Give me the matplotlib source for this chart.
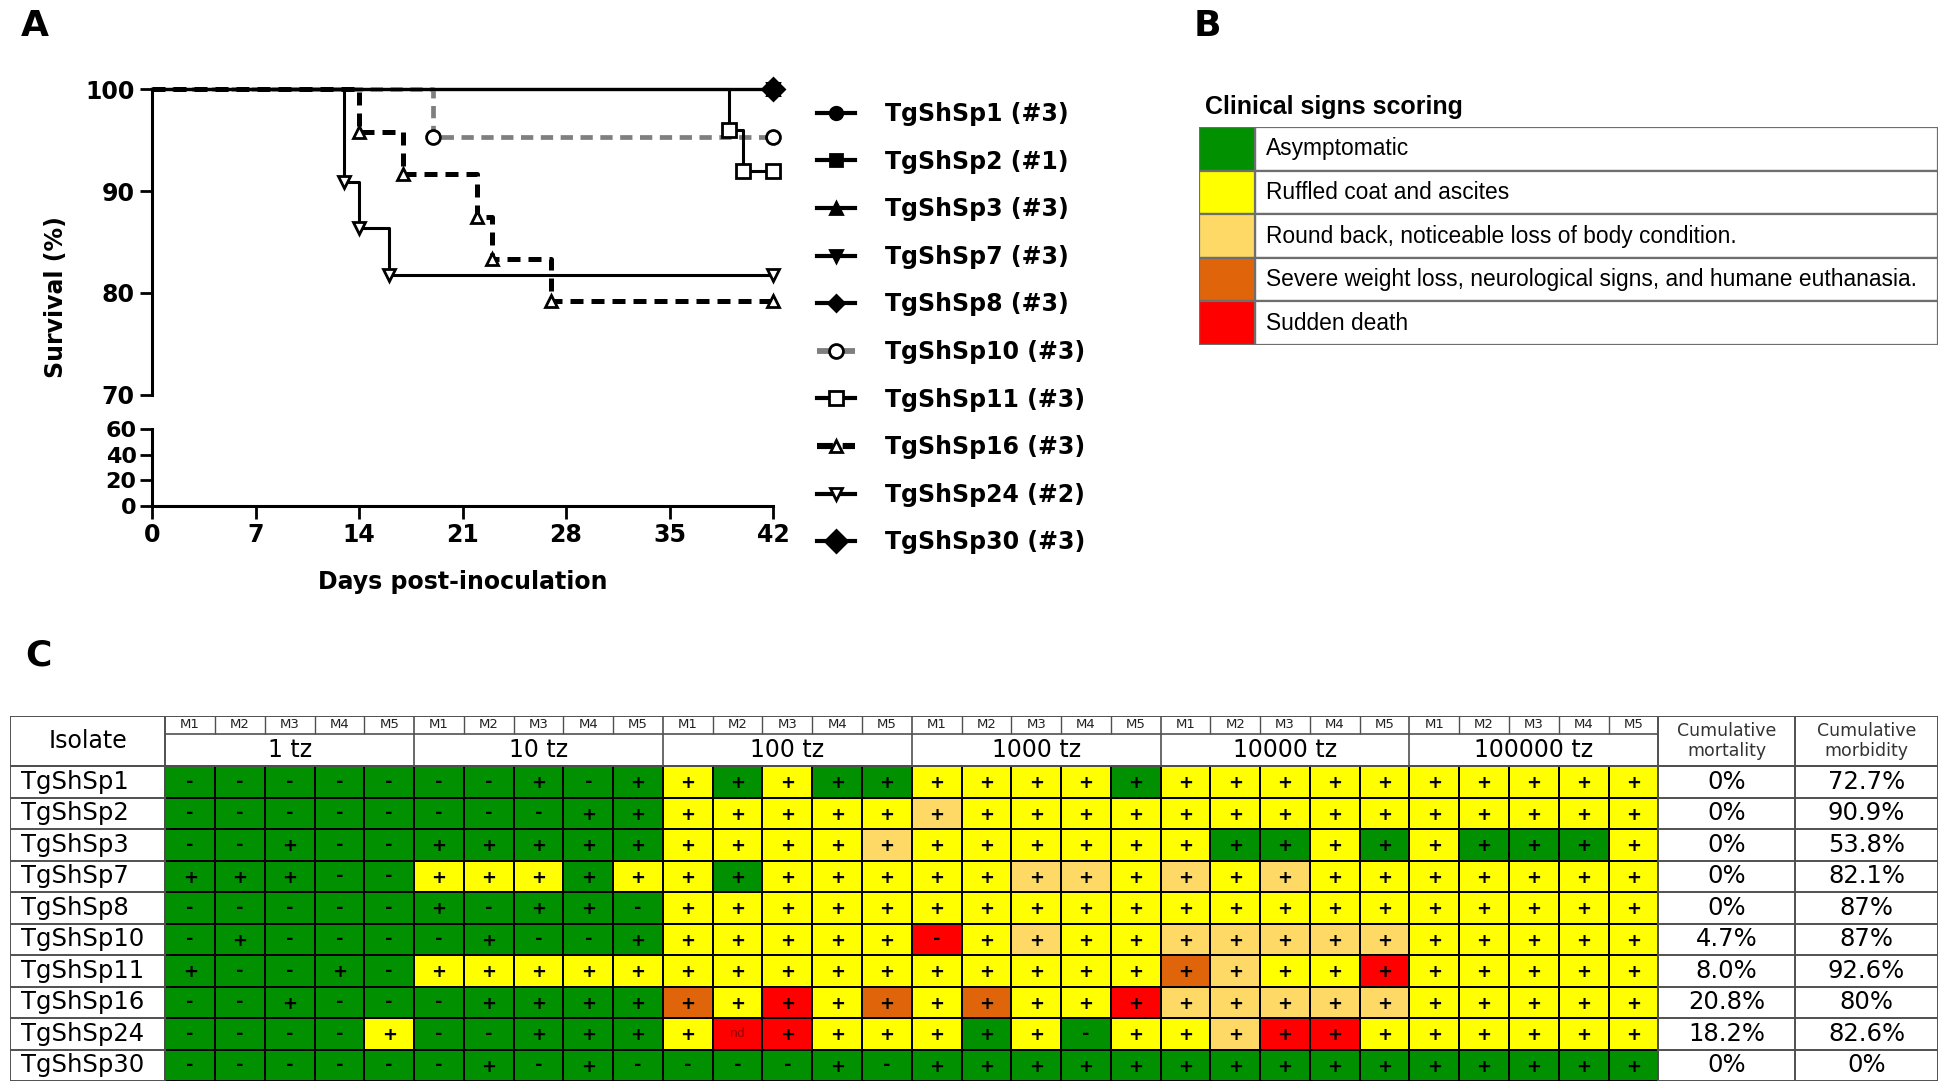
import numpy as np
import matplotlib.pyplot as plt
from matplotlib.lines import Line2D
from matplotlib.colors import ListedColormap

plt.rcParams['font.family'] = ['DejaVu Sans']

W, H = 1948, 1092


def box(l, t, r, b):
    # pixel box -> figure fraction
    return [l / W, 1 - b / H, (r - l) / W, (b - t) / H]


# ---------------- panel A : survival ----------------
curve_names = ['TgShSp1 (#3)', 'TgShSp2 (#1)', 'TgShSp3 (#3)', 'TgShSp7 (#3)', 'TgShSp8 (#3)',
               'TgShSp10 (#3)', 'TgShSp11 (#3)', 'TgShSp16 (#3)', 'TgShSp24 (#2)', 'TgShSp30 (#3)']
curve_days = [[0, 42], [0, 42], [0, 42], [0, 42], [0, 42],
              [0, 19, 42], [0, 39, 40, 42], [0, 14, 17, 22, 23, 27, 42],
              [0, 13, 14, 16, 42], [0, 42]]
curve_surv = [[100, 100], [100, 100], [100, 100], [100, 100], [100, 100],
              [100, 95.3, 95.3], [100, 96.0, 92.0, 92.0],
              [100, 95.8, 91.7, 87.5, 83.3, 79.2, 79.2],
              [100, 90.9, 86.4, 81.8, 81.8], [100, 100]]

curve_color = ['black'] * 5 + ['#7f7f7f'] + ['black'] * 4
curve_ls = ['-'] * 5 + [(0, (2.6, 1.6)), '-', (0, (2.6, 1.6)), '-', '-']
curve_lw = [2.2, 2.2, 2.2, 2.2, 2.2, 3.4, 2.2, 3.6, 2.2, 2.2]
curve_marker = ['o', 's', '^', 'v', 'D', 'o', 's', '^', 'v', 'D']
curve_fill = [True] * 5 + [False] * 4 + [True]
curve_ms = [9, 9, 9, 9, 8, 10, 10, 9, 9, 11]

fig = plt.figure(figsize=(W / 100, H / 100), dpi=100)
axu = fig.add_axes(box(152, 89, 773, 395))
axl = fig.add_axes(box(152, 429, 773, 506))

handles = []
for i in range(len(curve_names)):
    mfc = curve_color[i] if curve_fill[i] else 'white'
    mec = 'black'
    axu.step(curve_days[i], curve_surv[i], where='post', color=curve_color[i],
             ls=curve_ls[i], lw=curve_lw[i], clip_on=False)
    axu.plot(curve_days[i][1:], curve_surv[i][1:], ls='none', marker=curve_marker[i],
             ms=curve_ms[i], mfc=mfc, mec=mec, mew=2, clip_on=False, zorder=3)
    handles.append(Line2D([], [], color=curve_color[i], ls=curve_ls[i], lw=curve_lw[i] + 0.8,
                          marker=curve_marker[i], ms=curve_ms[i], mfc=mfc,
                          mec=mec, mew=2))

for ax in (axu, axl):
    ax.set_xlim(0, 42)
    ax.spines['top'].set_visible(False)
    ax.spines['right'].set_visible(False)
    for s in ('left', 'bottom'):
        ax.spines[s].set_linewidth(2.2)
    ax.tick_params(length=9, width=2, labelsize=17)

axu.set_ylim(70, 100)
axu.set_yticks([70, 80, 90, 100])
axu.spines['bottom'].set_visible(False)
axu.set_xticks([])
axl.set_ylim(0, 60)
axl.set_yticks([0, 20, 40, 60])
axl.set_xticks([0, 7, 14, 21, 28, 35, 42])
axl.tick_params(axis='y', labelsize=16, pad=2)
for ax in (axu, axl):
    for lab in ax.get_xticklabels() + ax.get_yticklabels():
        lab.set_fontweight('bold')

fig.text(463 / W, 1 - 582 / H, 'Days post-inoculation', ha='center', va='center',
         fontsize=17, fontweight='bold')
fig.text(56 / W, 1 - 297 / H, 'Survival (%)', ha='center', va='center', rotation=90,
         fontsize=17, fontweight='bold')

fig.legend(handles, curve_names, loc='upper left', bbox_to_anchor=(817 / W, 1 - 102 / H),
           frameon=False, borderpad=0, borderaxespad=0, handlelength=1.6,
           handletextpad=1.3, labelspacing=1.0,
           prop={'size': 17, 'weight': 'bold'})

# ---------------- panel B : scoring legend ----------------
score_labels = ['Asymptomatic', 'Ruffled coat and ascites',
                'Round back, noticeable loss of body condition.',
                'Severe weight loss, neurological signs, and humane euthanasia.',
                'Sudden death']
score_colors = ['#009000', '#ffff00', '#ffd966', '#e0640a', '#ff0000']

axb = fig.add_axes(box(1199, 127, 1938, 345))
ypos = np.arange(len(score_labels))
axb.barh(ypos, 683, left=56, height=1, color='white', edgecolor='#6e6e6e', lw=1.6)
axb.barh(ypos, 56, left=0, height=1, color=score_colors, edgecolor='#6e6e6e', lw=1.6)
for i, lab in enumerate(score_labels):
    axb.text(67, i, lab, va='center', ha='left', fontsize=16.4, family='Liberation Sans')
axb.set_xlim(0, 739)
axb.set_ylim(len(score_labels) - 0.5, -0.5)
axb.axis('off')
fig.text(1205 / W, 1 - 107 / H, 'Clinical signs scoring', ha='left', va='center',
         fontsize=18, fontweight='bold', family='Liberation Sans')

# ---------------- panel C : clinical signs table ----------------
isolates = ['TgShSp1', 'TgShSp2', 'TgShSp3', 'TgShSp7', 'TgShSp8',
            'TgShSp10', 'TgShSp11', 'TgShSp16', 'TgShSp24', 'TgShSp30']
doses = ['1 tz', '10 tz', '100 tz', '1000 tz', '10000 tz', '100000 tz']
mice = ['M1', 'M2', 'M3', 'M4', 'M5']
# score: 0 asymptomatic .. 4 sudden death ; groups of 5 mice per dose
scores = ['00000 00000 10100 11110 11111 11111',
          '00000 00000 11111 21111 11111 11111',
          '00000 00000 11112 11111 10010 10001',
          '00000 11101 10111 11221 21211 11111',
          '00000 00000 11111 11111 11111 11111',
          '00000 00000 11111 41211 22222 11111',
          '00000 11111 11111 11111 32114 11111',
          '00000 00000 31413 13114 22222 11111',
          '00001 00000 14411 10101 12441 11111',
          '00000 00000 00000 00000 00000 00000']
# infection result: + / - / n (not determined)
results = ['----- --+-+ +++++ +++++ +++++ +++++',
           '----- ---++ +++++ +++++ +++++ +++++',
           '--+-- +++++ +++++ +++++ +++++ +++++',
           '+++-- +++++ +++++ +++++ +++++ +++++',
           '----- +-++- +++++ +++++ +++++ +++++',
           '-+--- -+--+ +++++ -++++ +++++ +++++',
           '+--+- +++++ +++++ +++++ +++++ +++++',
           '--+-- -++++ +++++ +++++ +++++ +++++',
           '----+ --+++ +n+++ +++-+ +++++ +++++',
           '----- -+-+- ---+- +++++ +++++ +++++']
mortality = ['0%', '0%', '0%', '0%', '0%', '4.7%', '8.0%', '20.8%', '18.2%', '0%']
morbidity = ['72.7%', '90.9%', '53.8%', '82.1%', '87%', '87%', '92.6%', '80%', '82.6%', '0%']

score_mat = np.array([[int(c) for c in s.replace(' ', '')] for s in scores])
res_mat = [list(s.replace(' ', '')) for s in results]
nrow, ncol = score_mat.shape

iso_w, mort_w, morb_w = 3.12, 2.75, 2.87
m_h, tz_h = 0.57, 1.02
hdr = m_h + tz_h
x_right = ncol + mort_w + morb_w

axc = fig.add_axes(box(10, 716, 1938, 1081))
axc.set_xlim(-iso_w, x_right)
axc.set_ylim(nrow, -hdr)
axc.axis('off')

axc.pcolormesh(np.arange(ncol + 1), np.arange(nrow + 1), score_mat,
               cmap=ListedColormap(score_colors), vmin=-0.5, vmax=4.5,
               edgecolors='black', linewidth=1.2)

grid_c = '#505050'
# horizontal rules
axc.hlines(np.arange(nrow + 1), -iso_w, 0, color=grid_c, lw=1.4)
axc.hlines(np.arange(nrow + 1), ncol, x_right, color=grid_c, lw=1.4)
axc.hlines([-hdr, 0], -iso_w, x_right, color=grid_c, lw=1.4)
axc.hlines(-hdr + m_h, 0, ncol, color=grid_c, lw=1.2)
# vertical rules
axc.vlines([-iso_w, 0, ncol, ncol + mort_w, x_right], -hdr, nrow, color=grid_c, lw=1.4)
axc.vlines(np.arange(5, ncol, 5), -hdr, 0, color=grid_c, lw=1.2)
inner = [k for k in range(1, ncol) if k % 5]
axc.vlines(inner, -hdr, -hdr + m_h, color=grid_c, lw=1.0)

for k in range(ncol):
    axc.text(k + 0.5, -hdr + m_h / 2, mice[k % 5], ha='center', va='center',
             fontsize=9.5, color='#222222')
for g, d in enumerate(doses):
    axc.text(5 * g + 2.5, -tz_h / 2, d, ha='center', va='center', fontsize=17)
axc.text(-iso_w / 2, -hdr / 2, 'Isolate', ha='center', va='center', fontsize=17)
axc.text(ncol + mort_w / 2, -hdr / 2, 'Cumulative\nmortality', ha='center', va='center',
         fontsize=12.5, linespacing=1.15, color='#333333')
axc.text(ncol + mort_w + morb_w / 2, -hdr / 2, 'Cumulative\nmorbidity', ha='center',
         va='center', fontsize=12.5, linespacing=1.15, color='#333333')

for r in range(nrow):
    axc.text(-iso_w + 0.22, r + 0.5, isolates[r], ha='left', va='center', fontsize=17.5)
    axc.text(ncol + mort_w / 2, r + 0.5, mortality[r], ha='center', va='center', fontsize=17.5)
    axc.text(ncol + mort_w + morb_w / 2, r + 0.5, morbidity[r], ha='center', va='center',
             fontsize=17.5)
    for k in range(ncol):
        v = res_mat[r][k]
        if v == 'n':
            axc.text(k + 0.5, r + 0.5, 'nd', ha='center', va='center', fontsize=9,
                     color='#9a0000')
        else:
            axc.text(k + 0.5, r + 0.55 if v == '+' else r + 0.5, v, ha='center',
                     va='center', fontsize=13, fontweight='bold', color='black')

# panel letters
fig.text(35 / W, 1 - 26 / H, 'A', ha='center', va='center', fontsize=26, fontweight='bold')
fig.text(1207 / W, 1 - 26 / H, 'B', ha='center', va='center', fontsize=26, fontweight='bold')
fig.text(38 / W, 1 - 655 / H, 'C', ha='center', va='center', fontsize=26, fontweight='bold')

fig.savefig('out.png', dpi=100)
